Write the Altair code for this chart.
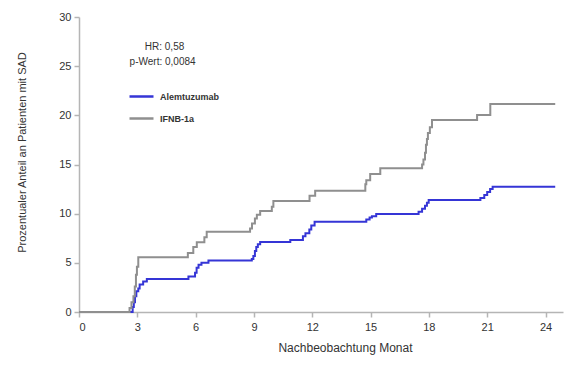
import altair as alt
import pandas as pd

# IFNB-1a (gray) step curve: months, cumulative percent
ifnb_months = [0, 2.54, 2.6, 2.7, 2.8, 2.87, 2.93, 2.98, 3.05, 5.6, 5.88, 6.06, 6.45, 6.57,
               8.8, 8.9, 9.05, 9.15, 9.32, 9.92, 10.0, 11.86, 12.15, 14.73, 14.78, 14.98,
               15.5, 17.65, 17.72, 17.8, 17.85, 17.9, 17.95, 18.05, 18.16, 20.48, 21.16, 24.5]
ifnb_pct = [0, 0, 0.4, 1.0, 1.6, 2.6, 3.8, 4.6, 5.56, 6.0, 6.6, 7.1, 7.6, 8.17,
            8.5, 9.0, 9.5, 9.9, 10.27, 10.7, 11.29, 11.83, 12.34, 13.0, 13.4, 14.04,
            14.62, 15.0, 15.5, 16.2, 17.0, 17.6, 18.2, 18.8, 19.53, 20.04, 21.16, 21.16]

# Alemtuzumab (blue) step curve
alem_months = [0, 2.71, 2.76, 2.82, 2.88, 2.95, 3.05, 3.12, 3.3, 3.49, 5.63, 5.97, 6.05, 6.15,
               6.3, 6.66, 8.89, 8.97, 9.05, 9.12, 9.2, 9.32, 10.87, 11.52, 11.65, 11.85, 11.95,
               12.12, 14.78, 14.95, 15.07, 15.29, 17.47, 17.65, 17.8, 17.9, 17.99, 20.65,
               20.85, 21.0, 21.15, 21.28, 24.5]
alem_pct = [0, 0, 0.5, 1.0, 1.6, 2.1, 2.4, 2.8, 3.1, 3.36, 3.6, 4.0, 4.5, 4.8,
            5.0, 5.25, 5.4, 5.7, 6.2, 6.6, 6.9, 7.12, 7.32, 7.7, 8.0, 8.4, 8.8,
            9.19, 9.4, 9.6, 9.75, 9.97, 10.2, 10.5, 10.8, 11.1, 11.39, 11.6,
            11.9, 12.2, 12.5, 12.75, 12.75]

series_names = ["Alemtuzumab", "IFNB-1a"]
series_colors = ["#3535d6", "#8f8f8f"]

x_ticks = [0, 3, 6, 9, 12, 15, 18, 21, 24]
y_ticks = [0, 5, 10, 15, 20, 25, 30]

annot_text = ["HR: 0,58", "p-Wert: 0,0084"]
annot_x = [4.4, 4.3]
annot_y = [26.95, 25.4]

rows = []
for m, p in zip(alem_months, alem_pct):
    rows.append({"Monat": m, "Prozent": p, "Gruppe": series_names[0]})
for m, p in zip(ifnb_months, ifnb_pct):
    rows.append({"Monat": m, "Prozent": p, "Gruppe": series_names[1]})
df = pd.DataFrame(rows)

annot = pd.DataFrame({"t": annot_text, "x": annot_x, "y": annot_y})

xscale = alt.Scale(domain=[0, 24.9], nice=False, zero=False)
yscale = alt.Scale(domain=[0, 30], nice=False)

lines = alt.Chart(df).mark_line(interpolate="step-after", strokeWidth=2).encode(
    x=alt.X("Monat:Q", scale=xscale,
            axis=alt.Axis(values=x_ticks, title="Nachbeobachtung Monat", grid=False,
                          titleX=266, titlePadding=10, labelPadding=4)),
    y=alt.Y("Prozent:Q", scale=yscale,
            axis=alt.Axis(values=y_ticks, title="Prozentualer Anteil an Patienten mit SAD",
                          grid=False, titlePadding=31, titleY=135, labelPadding=3)),
    color=alt.Color("Gruppe:N",
                    scale=alt.Scale(domain=series_names, range=series_colors),
                    legend=alt.Legend(title=None, orient="none", legendX=49, legendY=66,
                                      symbolType="stroke", symbolSize=576,
                                      symbolStrokeWidth=2.5, labelFontSize=9,
                                      labelFontWeight="bold", labelColor="#333333",
                                      labelFont="Liberation Sans", rowPadding=3,
                                      labelOffset=5)),
    detail="Gruppe:N",
)

texts = alt.Chart(annot).mark_text(fontSize=10, font="Liberation Sans", color="#333333",
                                   align="center").encode(
    x=alt.X("x:Q", scale=xscale),
    y=alt.Y("y:Q", scale=yscale),
    text="t:N",
)

chart = alt.layer(lines, texts).properties(
    width=484, height=295,
    autosize=alt.AutoSizeParams(type="none"),
    padding={"left": 71, "top": 9, "right": 10, "bottom": 48},
).configure_view(stroke=None).configure_axis(
    domainColor="#b5b5b5", tickColor="#b5b5b5", tickSize=5, domainWidth=1.5, tickWidth=1.5,
    labelFont="Liberation Sans", titleFont="Liberation Sans", labelFontSize=11,
    titleFontSize=11, labelColor="#333333", titleColor="#333333", titleFontWeight="normal",
).configure_axisX(titleFontSize=12)

chart.save("out.html", embed_options={"renderer": "svg", "actions": False})
